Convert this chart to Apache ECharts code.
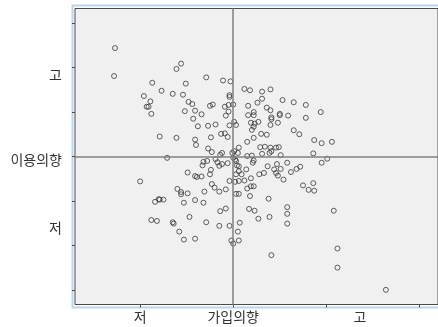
<!DOCTYPE html>
<html>
<head>
<meta charset="utf-8">
<script src="https://cdn.jsdelivr.net/npm/echarts@6/dist/echarts.min.js"></script>
<style>
  html, body { margin: 0; padding: 0; background: #fff; }
  #chart { width: 438px; height: 327px; }
</style>
</head>
<body>
<div id="chart"></div>
<script>
// 가입의향 (x) / 이용의향 (y)
const gaip = [
  -1.27, -1.28, -0.61, -0.56, -0.87, -0.51, -0.29, -0.11, -0.77, -0.65,
  -0.54, -0.96, -0.89, -0.93, -0.91, -0.88, -0.48, -0.44, -0.52, -0.41,
  -0.34, -0.43, -0.38, -0.27, -0.19, -0.25, -0.22, -0.79, -0.61, -0.41,
  -0.40, -0.24, -0.13, -0.27, -0.23, -0.71, -0.32, -0.28, -0.33, -0.19,
  -0.17, -0.49, -0.41, -0.39, -0.34, -0.24, -0.25, -1.00, -0.60, -0.56,
  -0.56, -0.49, -0.31, -0.23, -0.20, -0.15, -0.84, -0.80, -0.79, -0.75,
  -0.53, -0.41, -0.32, -0.14, -0.88, -0.82, -0.65, -0.64, -0.47, -0.29,
  -0.15, -0.58, -0.53, -0.41, -0.03, 0.12, 0.18, 0.31, 0.40, -0.04,
  -0.04, 0.31, 0.26, 0.53, 0.65, 0.78, 0.94, 0.16, -0.09, -0.05,
  0.00, 0.36, 0.40, 0.22, 0.22, 0.16, 0.50, 0.50, 0.59, 0.78,
  0.41, 0.41, -0.08, -0.05, 0.19, 0.23, 0.27, 0.48, 0.40, 0.01,
  0.03, -0.04, 0.22, 0.20, 0.30, 0.36, 0.65, 0.71, 0.22, -0.09,
  -0.06, 0.87, 0.95, 1.06, 0.15, 0.29, 0.34, 0.40, 0.46, 0.49,
  0.41, 0.31, 0.39, 0.51, 0.86, 0.06, 0.01, -0.01, 0.05, -0.12,
  -0.14, 0.00, 0.02, 0.03, 0.15, 0.20, 0.21, 0.22, 1.01, 0.95,
  -0.12, -0.06, 0.04, 0.37, 0.47, 0.58, 0.51, 0.44, 0.46, 0.48,
  0.54, 0.62, 0.68, 0.72, 0.28, 0.33, 0.06, 0.06, 0.03, 0.09,
  0.12, 0.06, 0.02, 0.14, 0.19, -0.04, -0.08, 0.15, 0.19, 0.22,
  0.18, 0.03, 0.06, 0.38, 0.75, 0.81, 0.87, 0.86, -0.08, 0.17,
  0.23, 0.58, 0.58, 0.58, 0.27, 0.39, 1.08, 0.07, -0.04, 0.05,
  0.06, -0.02, 0.00, 0.41, 1.12, 1.12, 1.64, -0.15
];
const iyong = [
  2.44, 1.81, 1.97, 2.09, 1.66, 1.64, 1.78, 1.71, 1.48, 1.41,
  1.39, 1.36, 1.24, 1.12, 1.12, 0.96, 1.23, 1.18, 1.02, 1.03,
  0.95, 0.85, 0.68, 0.69, 0.72, 1.14, 1.17, 0.45, 0.42, 0.38,
  0.26, 0.43, 0.51, 0.18, 0.10, -0.03, -0.12, -0.10, -0.20, -0.06,
  -0.13, -0.36, -0.44, -0.46, -0.45, -0.30, -0.40, -0.56, -0.73, -0.80,
  -0.85, -0.83, -0.79, -0.62, -0.70, -0.79, -1.02, -0.96, -0.97, -0.97,
  -1.04, -0.98, -1.04, -1.23, -1.43, -1.45, -1.48, -1.51, -1.36, -1.48,
  -1.56, -1.69, -1.87, -1.85, 1.69, 1.52, 1.49, 1.46, 1.51, 1.38,
  1.34, 1.30, 1.21, 1.27, 1.22, 1.16, 1.00, 1.14, 1.12, 1.16,
  1.17, 1.10, 1.04, 1.00, 0.93, 0.93, 0.96, 0.93, 0.92, 0.87,
  0.88, 0.84, 0.92, 1.01, 0.76, 0.74, 0.78, 0.76, 0.71, 0.78,
  0.71, 0.70, 0.67, 0.60, 0.51, 0.49, 0.59, 0.50, 0.42, 0.52,
  0.44, 0.37, 0.30, 0.33, 0.33, 0.21, 0.22, 0.20, 0.20, 0.21,
  0.12, 0.06, 0.08, 0.03, 0.07, 0.20, 0.12, 0.08, 0.08, 0.08,
  0.04, -0.03, -0.07, -0.10, 0.01, 0.02, -0.14, -0.09, -0.05, -0.14,
  -0.17, -0.15, -0.20, -0.22, -0.17, -0.14, -0.28, -0.29, -0.37, -0.43,
  -0.52, -0.35, -0.28, -0.23, -0.40, -0.37, -0.22, -0.33, -0.40, -0.40,
  -0.54, -0.55, -0.57, -0.29, -0.49, -0.55, -0.74, -0.72, -0.67, -0.67,
  -0.89, -0.84, -0.84, -0.95, -0.65, -0.75, -0.77, -0.60, -1.17, -1.18,
  -1.22, -1.14, -1.29, -1.51, -1.40, -1.36, -1.22, -1.49, -1.56, -1.69,
  -1.89, -1.89, -1.96, -2.22, -2.07, -2.50, -3.00, -0.21
];

const xTicks = [-1, 0, 1, 2];
const yTicks = [-3, -2, -1, 0, 1, 2, 3];
const xLabels = ["저", "가입의향", "고"];
const xLabelAt = [-1.0, 0, 1.36];
const yLabels = ["고", "이용의향", "저"];
const yLabelAt = [1.84, -0.07, -1.6];

const pickLabel = (names, at) => (v) => {
  let best = 0;
  at.forEach((a, i) => { if (Math.abs(a - v) < Math.abs(at[best] - v)) best = i; });
  return names[best];
};

const points = gaip.map((x, i) => [x, iyong[i]]);

const chart = echarts.init(document.getElementById("chart"));

chart.setOption({
  animation: false,
  textStyle: { fontFamily: "'Noto Sans CJK KR', 'Noto Sans', sans-serif" },
  grid: {
    left: 75,
    right: -2,
    top: 8.5,
    bottom: 22.5,
    show: true,
    backgroundColor: "#f0f0f0",
    borderColor: "#4a4a4a",
    borderWidth: 1
  },
  xAxis: {
    type: "value",
    min: -1.7,
    max: 2.2,
    splitLine: { show: false },
    axisLine: { show: false, onZero: false },
    axisTick: {
      show: true,
      customValues: xTicks,
      length: 3,
      lineStyle: { color: "#4a4a4a" }
    },
    axisLabel: {
      customValues: xLabelAt,
      formatter: pickLabel(xLabels, xLabelAt),
      color: "#333",
      fontSize: 14,
      margin: 5
    }
  },
  yAxis: {
    type: "value",
    min: -3.33,
    max: 3.33,
    splitLine: { show: false },
    axisLine: { show: false, onZero: false },
    axisTick: {
      show: true,
      customValues: yTicks,
      length: 3,
      lineStyle: { color: "#4a4a4a" }
    },
    axisLabel: {
      customValues: yLabelAt,
      formatter: pickLabel(yLabels, yLabelAt),
      color: "#333",
      fontSize: 14,
      margin: 13
    }
  },
  graphic: [{
    type: "rect",
    silent: true,
    z: -1,
    shape: { x: 72.5, y: 5.5, width: 400, height: 302 },
    style: { fill: null, stroke: "#b9d5ef", lineWidth: 2 }
  }],
  series: [{
    type: "scatter",
    data: points,
    symbol: "circle",
    symbolSize: 5,
    itemStyle: { color: "rgba(0,0,0,0)", borderColor: "#3a3a3a", borderWidth: 1 },
    markLine: {
      silent: true,
      symbol: "none",
      label: { show: false },
      lineStyle: { color: "#808080", width: 1.5, type: "solid" },
      data: [{ xAxis: 0 }, { yAxis: 0 }]
    }
  }]
});
</script>
</body>
</html>
